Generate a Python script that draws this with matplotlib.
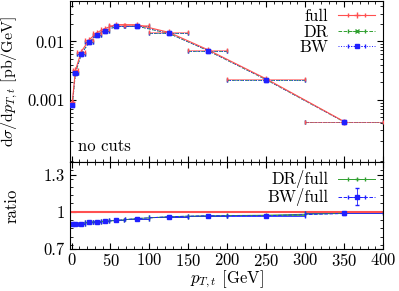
import numpy as np
import matplotlib
matplotlib.use('Agg')
import matplotlib.pyplot as plt
from matplotlib.ticker import MultipleLocator, FixedLocator, NullFormatter, LogLocator

plt.rcParams['font.family'] = 'serif'
plt.rcParams['font.serif'] = ['cmr10', 'DejaVu Serif']
plt.rcParams['mathtext.fontset'] = 'cm'
plt.rcParams['axes.formatter.use_mathtext'] = True
plt.rcParams['font.size'] = 12

# bins in pT,t [GeV]
pt = [1, 5, 12.5, 22.5, 32.5, 42.5, 57.5, 84, 125, 175, 250, 350]
pt_err = [1, 3, 5, 5, 5, 5, 10, 16, 25, 25, 50, 50]

# dsigma/dpT [pb/GeV]
full = [0.00092, 0.0032, 0.0067, 0.0106, 0.0141, 0.0166, 0.0194, 0.0193, 0.0143, 0.0072, 0.00228, 0.000424]
dr_ratio = [0.90, 0.905, 0.905, 0.915, 0.92, 0.922, 0.93, 0.945, 0.96, 0.968, 0.972, 0.988]
bw_ratio = [0.90, 0.905, 0.905, 0.915, 0.92, 0.922, 0.93, 0.945, 0.96, 0.968, 0.968, 0.986]
bw_ratio_err = [0.004, 0.003, 0.003, 0.003, 0.003, 0.003, 0.003, 0.003, 0.004, 0.005, 0.008, 0.010]

dr = [f * r for f, r in zip(full, dr_ratio)]
bw = [f * r for f, r in zip(full, bw_ratio)]

RED = '#ff5050'
GREEN = '#30a030'
BLUE = '#2020ff'

fig = plt.figure(figsize=(3.99, 2.91), dpi=100)
ax1 = fig.add_axes([0.1754, 0.443, 0.785, 0.555])
ax2 = fig.add_axes([0.1754, 0.1443, 0.785, 0.2987])

# top panel
eg = ax1.errorbar(pt, dr, xerr=pt_err, color=GREEN, marker='x', ms=3, lw=0.7, ls='--',
                  elinewidth=0.6, capsize=1.5, label='DR', zorder=2)
eg[2][0].set_linestyle('--')
eb = ax1.errorbar(pt, bw, xerr=pt_err, color=BLUE, marker='s', ms=2.5, lw=0.7, ls=':',
                  elinewidth=0.7, capsize=1.5, label='BW', zorder=2.5)
eb[2][0].set_linestyle(':')
er = ax1.errorbar(pt, full, xerr=pt_err, color=RED, marker='+', ms=4, lw=0.8,
                  elinewidth=0.6, capsize=1.5, label='full', zorder=3)
er[2][0].set_alpha(0.7)
ax1.plot(pt, bw, 's', color=BLUE, ms=2.5, zorder=4)
ax1.set_yscale('log')
ax1.set_xlim(-2, 400)
ax1.set_ylim(8.6e-5, 0.05)
ax1.yaxis.set_major_locator(FixedLocator([0.001, 0.01]))
ax1.yaxis.set_minor_locator(LogLocator(base=10, subs=np.arange(2, 10)))
ax1.yaxis.set_minor_formatter(NullFormatter())
ax1.set_yticklabels(['0.001', '0.01'])
ax1.xaxis.set_major_locator(MultipleLocator(50))
ax1.xaxis.set_minor_locator(MultipleLocator(10))
ax1.tick_params(labelbottom=False)
ax1.set_ylabel(r'$\mathrm{d}\sigma/\mathrm{d}p_{T,t}$ [pb/GeV]', fontsize=11.5)
ax1.text(0.025, 0.07, 'no cuts', transform=ax1.transAxes, fontsize=12)
handles, labels = ax1.get_legend_handles_labels()
order = [labels.index('full'), labels.index('DR'), labels.index('BW')]
ax1.legend([handles[i] for i in order], [labels[i] for i in order],
           loc='upper right', frameon=False, markerfirst=False, handlelength=2.2,
           borderaxespad=0.1, labelspacing=0.0, handletextpad=0.6, fontsize=12)

# ratio panel
ax2.axhline(1.0, color=RED, lw=1.5)
ax2.errorbar(pt, dr_ratio, xerr=pt_err, color=GREEN, marker='+', ms=3, lw=0.7,
             elinewidth=0.6, capsize=1.5, label='DR/full')
eb2 = ax2.errorbar(pt, bw_ratio, xerr=pt_err, yerr=bw_ratio_err, color=BLUE, marker='s', ms=2.5,
                   lw=0.7, ls='--', elinewidth=0.6, capsize=1.5, label='BW/full')
ax2.set_xlim(-2, 400)
ax2.set_ylim(0.7, 1.4)
ax2.set_yticks([0.7, 1.0, 1.3])
ax2.set_yticklabels(['0.7', '1', '1.3'])
ax2.yaxis.set_minor_locator(MultipleLocator(0.1 * 2 / 3))
ax2.xaxis.set_major_locator(MultipleLocator(50))
ax2.xaxis.set_minor_locator(MultipleLocator(10))
ax2.tick_params(axis='x', which='major', pad=2)
ax2.set_xlabel(r'$p_{T,t}$ [GeV]', labelpad=0)
ax2.set_ylabel('ratio')
ax2.legend(loc='upper right', frameon=False, markerfirst=False, handlelength=2.2,
           borderaxespad=0.1, labelspacing=0.0, handletextpad=0.6, fontsize=12)

for ax in (ax1, ax2):
    ax.tick_params(which='both', direction='in', top=True, right=True)
    ax.tick_params(which='major', length=4)
    ax.tick_params(which='minor', length=2)

ax1.yaxis.set_label_coords(-0.16, 0.5)
ax2.yaxis.set_label_coords(-0.16, 0.5)

fig.savefig('out.png', dpi=100)
